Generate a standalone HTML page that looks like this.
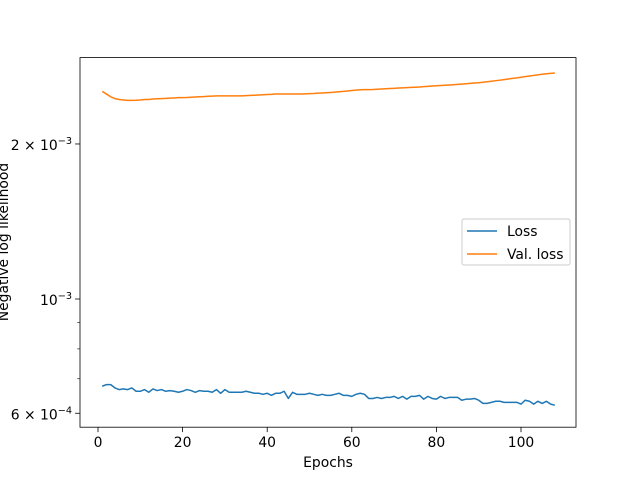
<!DOCTYPE html>
<html><head><meta charset="utf-8"><style>
body{margin:0;background:#fff}
svg{display:block;font-family:"DejaVu Sans","Liberation Sans",sans-serif}
</style></head><body>
<svg id="chart" width="640" height="480" viewBox="0 0 640 480">
<rect x="0" y="0" width="640" height="480" fill="#fff"/>
<g id="plot"></g>
</svg>
<script>
const epochs = Array.from({length:108},(_,i)=>i+1);
const lossVals = [6.77,6.82,6.82,6.72,6.67,6.69,6.67,6.72,6.62,6.62,6.67,6.59,6.69,6.64,6.67,6.62,6.64,6.62,6.59,6.62,6.67,6.64,6.59,6.64,6.62,6.62,6.59,6.67,6.56,6.67,6.59,6.59,6.59,6.59,6.62,6.59,6.56,6.56,6.53,6.56,6.50,6.56,6.56,6.62,6.41,6.59,6.53,6.53,6.53,6.56,6.53,6.50,6.53,6.50,6.50,6.53,6.56,6.50,6.50,6.47,6.53,6.56,6.53,6.41,6.41,6.44,6.41,6.44,6.44,6.47,6.41,6.47,6.39,6.47,6.47,6.50,6.39,6.47,6.41,6.39,6.47,6.41,6.44,6.44,6.44,6.36,6.39,6.39,6.41,6.36,6.27,6.27,6.30,6.33,6.33,6.30,6.30,6.30,6.30,6.25,6.36,6.33,6.25,6.33,6.27,6.33,6.25,6.22];
const valVals = [2.53,2.50,2.47,2.45,2.44,2.435,2.43,2.43,2.432,2.435,2.44,2.44,2.445,2.448,2.45,2.452,2.455,2.457,2.46,2.46,2.462,2.465,2.467,2.47,2.472,2.475,2.477,2.48,2.48,2.48,2.48,2.48,2.48,2.48,2.482,2.485,2.487,2.49,2.492,2.495,2.497,2.5,2.5,2.5,2.5,2.5,2.5,2.5,2.502,2.505,2.507,2.51,2.512,2.515,2.518,2.522,2.526,2.53,2.535,2.54,2.545,2.548,2.55,2.55,2.552,2.555,2.557,2.56,2.563,2.565,2.568,2.57,2.573,2.576,2.578,2.58,2.584,2.588,2.591,2.594,2.597,2.6,2.603,2.606,2.61,2.614,2.618,2.622,2.626,2.63,2.636,2.642,2.648,2.654,2.66,2.667,2.674,2.681,2.688,2.695,2.702,2.71,2.717,2.724,2.731,2.737,2.742,2.747];
const xTicks = [0,20,40,60,80,100];
const yMajor = [[2e-3,"2","-3"],[1e-3,"","-3"],[6e-4,"6","-4"]];
const yMinor = [7e-4,8e-4,9e-4];

const L=80,R=576,T=57.6,B=427.2;
const xs = v => 98 + v*(521-98)/100;
const ys = v => 299 - Math.log10(v/1e-3)*515;
const NS="http://www.w3.org/2000/svg";
const g=document.getElementById('plot');
function mk(tag,attrs,parent){const e=document.createElementNS(NS,tag);for(const k in attrs)e.setAttribute(k,attrs[k]);(parent||g).appendChild(e);return e;}

function line(vals,scale,color,name){
  const d=vals.map((v,i)=>(i?'L':'M')+xs(epochs[i]).toFixed(2)+','+ys(v*scale).toFixed(2)).join('');
  const p=mk('path',{d:d,fill:'none',stroke:color,'stroke-width':1.5,'stroke-linejoin':'round'});
  
  
}
line(lossVals,1e-4,'#1f77b4','loss-line');
line(valVals,1e-3,'#ff7f0e','val-loss-line');

const frame=mk('rect',{x:L,y:T,width:R-L,height:B-T,fill:'none',stroke:'#000','stroke-width':0.8});



xTicks.forEach(t=>{
  const x=xs(t);
  mk('line',{x1:x,x2:x,y1:B,y2:B+4.9,stroke:'#000','stroke-width':0.8});
  const tx=mk('text',{x:x,y:B+20,'font-size':13.9,'text-anchor':'middle'});
  tx.textContent=t;
  
  
});
yMajor.forEach(([v,m,e])=>{
  const y=ys(v);
  mk('line',{x1:L-4.9,x2:L,y1:y,y2:y,stroke:'#000','stroke-width':0.8});
  const tx=mk('text',{x:L-8,y:y+6,'font-size':13.9,'text-anchor':'end'});
  tx.textContent=(m?m+' \u00d7 ':'')+'10';
  const sp=mk('tspan',{dy:-6,'font-size':9.7},tx);
  sp.textContent='\u2212'+e.slice(1);
  
  
});
yMinor.forEach(v=>{const y=ys(v);mk('line',{x1:L-2.8,x2:L,y1:y,y2:y,stroke:'#000','stroke-width':0.6});});

const xt=mk('text',{x:328,y:467,'font-size':13.9,'text-anchor':'middle'});
xt.textContent='Epochs';


const yt=mk('text',{x:0,y:0,'font-size':13.9,'text-anchor':'middle',transform:'translate(8,242) rotate(-90)'});
yt.textContent='Negative log likelihood';



const lg=mk('g',{});


mk('rect',{x:462,y:219,width:108,height:46,rx:2,fill:'#fff','fill-opacity':0.8,stroke:'#ccc','stroke-width':1},lg);
[['Loss','#1f77b4',231],['Val. loss','#ff7f0e',254]].forEach(([n,c,y])=>{
  const ent=mk('g',{},lg);
  
  
  mk('line',{x1:467,x2:497,y1:y,y2:y,stroke:c,'stroke-width':1.5},ent);
  const t=mk('text',{x:507,y:y+5,'font-size':13.9},ent);t.textContent=n;
});
</script>
</body></html>
